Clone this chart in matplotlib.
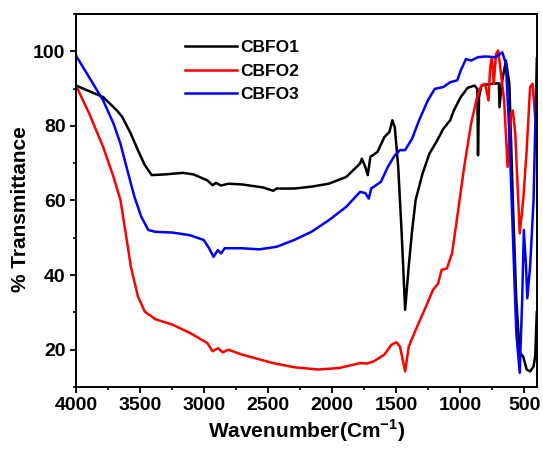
import matplotlib
matplotlib.use("Agg")
import matplotlib.pyplot as plt
from matplotlib.ticker import MultipleLocator

plt.rcParams['font.family'] = ['Liberation Sans', 'DejaVu Sans']
plt.rcParams['mathtext.fontset'] = 'custom'
plt.rcParams['mathtext.bf'] = 'Liberation Sans:bold'
plt.rcParams['mathtext.rm'] = 'Liberation Sans'

# CBFO1 (black)
wn1 = [4000, 3788, 3680, 3639, 3572, 3517, 3463, 3409, 3300, 3165, 3084, 2975,
       2934, 2907, 2867, 2812, 2704, 2541, 2460, 2433, 2297, 2162, 2026, 1890,
       1782, 1768, 1741, 1722, 1701, 1646, 1592, 1552, 1530, 1511, 1484, 1457,
       1430, 1402, 1375, 1348, 1294, 1240, 1186, 1132, 1078, 1050, 996, 942,
       888, 866, 861, 853, 834, 752, 698, 693, 676, 643, 616, 589, 562, 535,
       508, 481, 454, 427, 414, 402]
t1 = [90.8, 87.7, 84.1, 82.4, 77.9, 73.5, 69.5, 66.8, 67.0, 67.4, 67.0, 65.4,
      64.1, 64.7, 64.0, 64.5, 64.3, 63.5, 62.6, 63.2, 63.2, 63.7, 64.5, 66.3,
      69.9, 71.2, 69.0, 66.8, 71.7, 73.0, 77.0, 78.4, 81.5, 79.7, 69.0, 51.2,
      30.7, 42.3, 52.1, 60.1, 67.2, 72.6, 75.7, 79.2, 81.5, 84.1, 87.7, 90.2,
      90.8, 89.9, 72.1, 87.7, 90.8, 91.3, 91.4, 85.0, 91.3, 97.5, 91.3, 60.1,
      33.4, 19.1, 18.2, 14.7, 14.2, 15.5, 18.3, 30.0]

# CBFO2 (red)
wn2 = [4000, 3897, 3788, 3707, 3653, 3612, 3572, 3517, 3463, 3382, 3246, 3111,
       2975, 2934, 2893, 2853, 2812, 2704, 2460, 2297, 2107, 1945, 1782, 1728,
       1674, 1592, 1538, 1497, 1470, 1430, 1402, 1348, 1267, 1213, 1172, 1145,
       1104, 1064, 1023, 969, 915, 874, 847, 834, 806, 779, 766, 752, 738, 720,
       703, 684, 657, 630, 603, 589, 570, 535, 508, 481, 454, 435, 414, 400]
t2 = [90.8, 83.3, 74.3, 66.3, 60.1, 51.2, 42.3, 34.3, 30.2, 28.2, 26.7, 24.5,
      21.8, 19.6, 20.4, 19.3, 20.0, 18.7, 16.4, 15.3, 14.7, 15.1, 16.4, 16.3,
      16.9, 18.7, 21.3, 22.0, 20.8, 14.2, 20.8, 25.3, 31.6, 36.0, 37.8, 41.4,
      41.8, 45.8, 55.6, 69.0, 80.6, 86.8, 89.9, 90.8, 91.3, 86.8, 95.7, 98.4,
      91.3, 99.3, 100.2, 94.8, 86.8, 69.0, 83.3, 84.1, 77.9, 51.2, 60.1, 73.5,
      90.4, 91.3, 82.0, 81.3]

# CBFO3 (blue)
wn3 = [4000, 3897, 3788, 3707, 3653, 3599, 3544, 3490, 3436, 3382, 3246, 3111,
       3002, 2961, 2926, 2893, 2867, 2839, 2704, 2568, 2433, 2297, 2162, 2026,
       1890, 1782, 1741, 1714, 1695, 1619, 1565, 1511, 1470, 1430, 1375, 1321,
       1253, 1199, 1132, 1078, 1023, 996, 955, 915, 861, 806, 725, 671, 643,
       616, 589, 562, 535, 516, 503, 486, 476, 454, 427, 402]
t3 = [98.8, 93.0, 86.8, 80.6, 75.2, 68.1, 61.0, 55.6, 52.1, 51.6, 51.4, 50.7,
      49.4, 47.2, 44.9, 46.7, 45.8, 47.2, 47.2, 46.9, 47.6, 49.4, 51.6, 54.7,
      58.3, 62.3, 62.0, 60.5, 63.2, 65.0, 69.0, 72.1, 73.5, 73.5, 76.6, 81.5,
      86.8, 89.9, 90.4, 91.7, 92.2, 94.8, 97.9, 97.5, 98.4, 98.6, 98.4, 99.7,
      96.6, 77.9, 51.2, 24.5, 13.8, 33.4, 52.1, 42.3, 33.8, 42.3, 60.1, 98.0]

fig = plt.figure(figsize=(5.43, 4.49), dpi=100)
ax = fig.add_axes([0.140, 0.138, 0.849, 0.831])

ax.plot(wn1, t1, color='black', lw=1.8, label='CBFO1')
ax.plot(wn2, t2, color='#ff0000', lw=1.8, label='CBFO2')
ax.plot(wn3, t3, color='#0000ff', lw=1.8, label='CBFO3')

ax.set_xlim(4000, 400)
ax.set_ylim(10, 110)
ax.xaxis.set_major_locator(MultipleLocator(500))
ax.xaxis.set_minor_locator(MultipleLocator(250))
ax.yaxis.set_major_locator(MultipleLocator(20))
ax.yaxis.set_minor_locator(MultipleLocator(10))
ax.tick_params(which='major', direction='out', length=4.5, width=1.3,
               labelsize=14, pad=3)
ax.tick_params(which='minor', direction='out', length=2.5, width=1.2)
for lbl in ax.get_xticklabels() + ax.get_yticklabels():
    lbl.set_fontweight('bold')
for sp in ax.spines.values():
    sp.set_linewidth(1.4)

ax.set_xlabel(r'Wavenumber(Cm$^{\mathbf{-1}}$)', fontsize=15, fontweight='bold', labelpad=2)
ax.set_ylabel('% Transmittance', fontsize=15, fontweight='bold')
ax.yaxis.set_label_coords(-0.100, 0.477)

ax.legend(loc='upper left', bbox_to_anchor=(0.236, 0.931), frameon=False,
          prop={'weight': 'bold', 'size': 12.5}, handlelength=3.0,
          handletextpad=0.2, labelspacing=0.5, borderpad=0, borderaxespad=0)

fig.savefig('out.png', dpi=100)
